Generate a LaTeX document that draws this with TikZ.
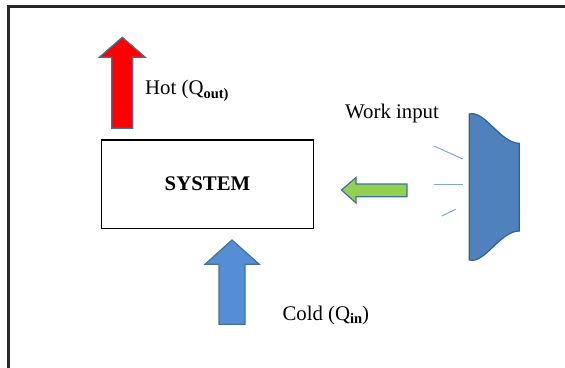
\documentclass[tikz,border=0pt]{standalone}
\usepackage{fontspec}
\setmainfont{Liberation Serif}
\definecolor{outl}{HTML}{41719C}
\definecolor{redfill}{HTML}{FF0000}
\definecolor{coldfill}{HTML}{558ED5}
\definecolor{greenfill}{HTML}{92D050}
\definecolor{spkfill}{HTML}{4F81BD}
\definecolor{spkline}{HTML}{385D8A}
\definecolor{rayc}{HTML}{7FA7DC}
\tikzset{
  blockarrow/.style={draw=outl, line width=1.2pt, line join=miter},
  lbl/.style={anchor=base west, inner sep=0pt, font=\fontsize{20.8}{24}\selectfont},
  ray/.style={draw=rayc, line width=1pt}
}
\newcommand{\mysub}[1]{\raisebox{-0.18em}{\fontsize{14.5}{16}\selectfont\bfseries #1}}
\begin{document}
\begin{tikzpicture}[x=1pt,y=-1pt]
\useasboundingbox (0,0) rectangle (565,367);
\clip (0,0) rectangle (565,367);
% frame
\draw[line width=2.5pt, black!85] (8.5,372) -- (8.5,6.5) -- (572,6.5);
% system box
\node[draw, line width=1.3pt, minimum width=211.6pt, minimum height=88.3pt, inner sep=0pt,
  font=\fontsize{20.8}{24}\selectfont\bfseries] (sys) at (207.5,184.2) {SYSTEM};
% hot arrow (red, upward)
\filldraw[blockarrow, fill=redfill] (122.3,37.3) -- (145.3,57.3) -- (132.8,57.3) -- (132.8,128.3) -- (111.8,128.3) -- (111.8,57.3) -- (99.3,57.3) -- cycle;
% cold arrow (blue, upward)
\filldraw[blockarrow, fill=coldfill] (232,240) -- (259.3,264.3) -- (245,264.3) -- (245,324.3) -- (219,324.3) -- (219,264.3) -- (205,264.3) -- cycle;
% work arrow (green, leftward)
\filldraw[blockarrow, fill=greenfill] (341.5,190) -- (356,177.5) -- (356,184) -- (407,184) -- (407,196.8) -- (356,196.8) -- (356,203) -- cycle;
% speaker
\filldraw[fill=spkfill, draw=spkline, line width=1.2pt]
  (469.3,114) .. controls (485,110) and (500,143) .. (519.3,143.3)
  -- (519.3,231) .. controls (500,231) and (485,264) .. (469.3,260) -- cycle;
% rays
\draw[ray] (434,146) -- (462.7,159);
\draw[ray] (434,184) -- (462.7,184);
\draw[ray] (441.7,216) -- (455.7,209.3);
% labels
\node[lbl] (hot) at (145,94.5) {Hot (Q\mysub{out)}};
\node[lbl] (work) at (345,118.3) {Work input};
\node[lbl] (cold) at (282.3,320) {Cold (Q\mysub{in})};
\end{tikzpicture}
\end{document}
